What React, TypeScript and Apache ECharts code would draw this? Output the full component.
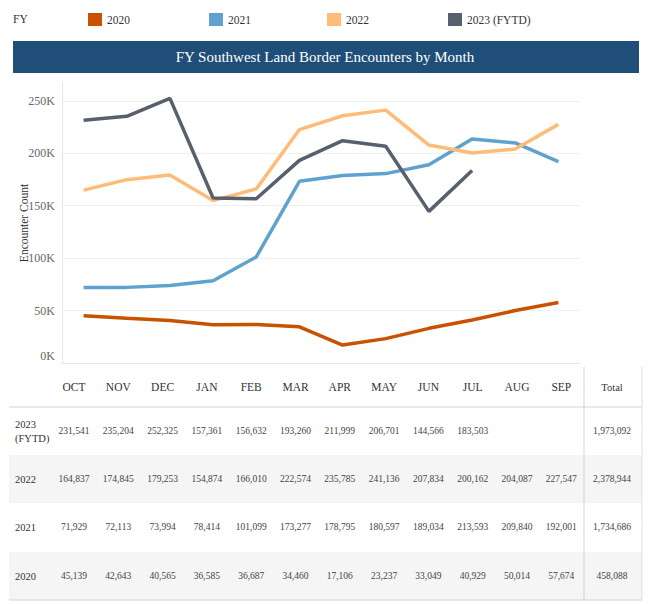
import React, { useEffect, useRef } from "react";
import * as echarts from "echarts";

const months = ["OCT", "NOV", "DEC", "JAN", "FEB", "MAR", "APR", "MAY", "JUN", "JUL", "AUG", "SEP"];
const seriesNames = ["2020", "2021", "2022", "2023 (FYTD)"];
const fy2020 = [45139, 42643, 40565, 36585, 36687, 34460, 17106, 23237, 33049, 40929, 50014, 57674];
const fy2021 = [71929, 72113, 73994, 78414, 101099, 173277, 178795, 180597, 189034, 213593, 209840, 192001];
const fy2022 = [164837, 174845, 179253, 154874, 166010, 222574, 235785, 241136, 207834, 200162, 204087, 227547];
const fy2023 = [231541, 235204, 252325, 157361, 156632, 193260, 211999, 206701, 144566, 183503, null, null];
const yTicks = [0, 50000, 100000, 150000, 200000, 250000];
const tableRows = [
  { label: "2023\n(FYTD)", values: fy2023 },
  { label: "2022", values: fy2022 },
  { label: "2021", values: fy2021 },
  { label: "2020", values: fy2020 },
];

const colors = ["#c85200", "#5fa2ce", "#ffbc79", "#57606c"];
const FONT = "Liberation Serif";

const fmt = (n: number) => String(n).replace(/\B(?=(\d{3})+(?!\d))/g, ",");

const txt = (x: number, y: number, text: string, size: number, fill: string, align = "center", extra: any = {}) => ({
  type: "text",
  x,
  y,
  style: { text, fontSize: size, fontFamily: FONT, fill, align, verticalAlign: "middle", ...extra },
});

export default function App() {
  const ref = useRef<HTMLDivElement>(null);
  useEffect(() => {
    if (!ref.current) return;
    const chart = echarts.init(ref.current, undefined, { renderer: "svg" });
    const data = [fy2020, fy2021, fy2022, fy2023];

    const colX = (i: number) => 74 + i * 44.3;
    const totalX = 612;
    const headerY = 387;
    const rowY = [431, 479, 527, 576];
    const rowTop = [407, 455, 503, 552];
    const rowH = 48;
    const legendLeft = [88, 209, 327, 448];

    const graphics: any[] = [
      txt(13, 19, "FY", 11.5, "#333", "left"),
      { type: "rect", shape: { x: 13, y: 41, width: 626, height: 32 }, style: { fill: "#1f4e78" } },
      txt(325, 57, "FY Southwest Land Border Encounters by Month", 15, "#ffffff"),
      txt(24, 223, "Encounter Count", 11.5, "#333", "center", {}),
    ];
    // rotate the axis title
    graphics[3].rotation = Math.PI / 2;
    tableRows.forEach((_, r) => {
      if (r % 2 === 1) {
        graphics.push({
          type: "rect",
          z: -1,
          shape: { x: 9, y: rowTop[r], width: 633, height: rowH },
          style: { fill: "#f5f5f5" },
        });
      }
    });
    graphics.push(
      { type: "line", shape: { x1: 9, y1: 407, x2: 642, y2: 407 }, style: { stroke: "#d3d3d3", lineWidth: 1 } },
      { type: "line", shape: { x1: 9, y1: 600, x2: 642, y2: 600 }, style: { stroke: "#d3d3d3", lineWidth: 1 } },
      { type: "line", shape: { x1: 584, y1: 367, x2: 584, y2: 600 }, style: { stroke: "#d3d3d3", lineWidth: 1 } },
      { type: "line", shape: { x1: 642, y1: 367, x2: 642, y2: 600 }, style: { stroke: "#e0e0e0", lineWidth: 1 } }
    );
    months.forEach((m, i) => graphics.push(txt(colX(i), headerY, m, 11.5, "#333")));
    graphics.push(txt(totalX, headerY, "Total", 10.5, "#333"));
    tableRows.forEach((row, r) => {
      graphics.push(txt(15, rowY[r], row.label, 10.5, "#333", "left", { lineHeight: 14 }));
      let total = 0;
      row.values.forEach((v, i) => {
        if (v == null) return;
        total += v;
        graphics.push(txt(colX(i), rowY[r], fmt(v), 9.5, "#444"));
      });
      graphics.push(txt(totalX, rowY[r], fmt(total), 9.5, "#444"));
    });

    chart.setOption({
      animation: false,
      backgroundColor: "#ffffff",
      textStyle: { fontFamily: FONT },
      legend: seriesNames.map((name, i) => ({
        left: legendLeft[i],
        top: 13,
        padding: 0,
        icon: "rect",
        itemWidth: 14,
        itemHeight: 13,
        data: [name],
        textStyle: { fontSize: 11.5, fontFamily: FONT, color: "#333" },
      })),
      grid: { left: 62, right: 70, top: 83, bottom: 241, containLabel: false },
      xAxis: {
        type: "category",
        data: months,
        boundaryGap: true,
        axisLabel: { show: false },
        axisTick: { show: false },
        axisLine: { show: true, lineStyle: { color: "#e6e6e6" } },
      },
      yAxis: {
        type: "value",
        min: 0,
        max: 267000,
        interval: 50000,
        axisLine: { show: true, lineStyle: { color: "#e6e6e6" } },
        axisTick: { show: false },
        axisLabel: {
          margin: 7,
          fontSize: 12,
          fontFamily: FONT,
          color: "#666",
          showMaxLabel: false,
          formatter: (v: number) => {
            if (!yTicks.includes(v)) return "";
            if (v === 0) return "{z|0K}";
            return v / 1000 + "K";
          },
          rich: { z: { fontSize: 12, fontFamily: FONT, color: "#666", padding: [0, 0, 14, 0] } },
        },
        splitLine: { show: true, showMaxLine: false, lineStyle: { color: "#efefef" } },
      },
      series: seriesNames.map((name, i) => ({
        name,
        type: "line",
        data: data[i],
        color: colors[i],
        showSymbol: false,
        symbol: "none",
        clip: false,
        lineStyle: { width: 3.5, color: colors[i] },
        itemStyle: { color: colors[i] },
      })),
      graphic: graphics,
    });
    return () => chart.dispose();
  }, []);
  return (
    <div
      ref={ref}
      style={{ position: "fixed", left: 0, top: 0, width: 650, height: 604, background: "#fff" }}
    />
  );
}
